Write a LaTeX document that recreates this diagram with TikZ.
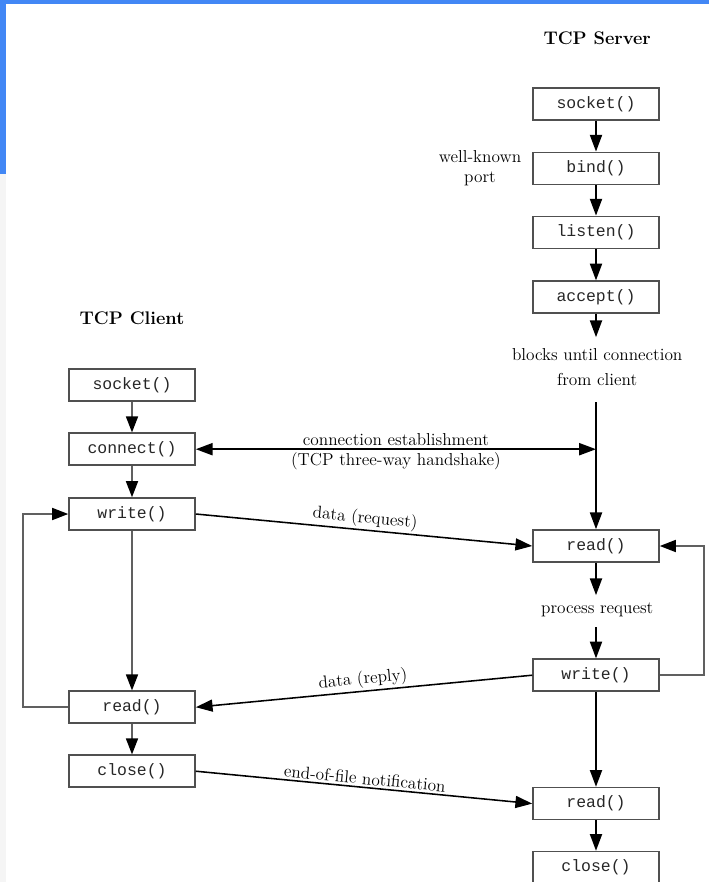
\documentclass[tikz,border=0pt]{standalone}
\usepackage{fontspec}
\setmonofont{Liberation Mono}
\usetikzlibrary{positioning}
\usetikzlibrary{calc}
\usetikzlibrary{arrows.meta}

\definecolor{frameblue}{RGB}{66,135,245}
\definecolor{boxgray}{RGB}{80,80,80}

\tikzset{
  callbox/.style={draw=boxgray, line width=1.1pt, minimum width=3.15cm, minimum height=0.8cm, inner sep=0pt, font=\fontsize{11.7}{14}\ttfamily, text=black!85},
  lbl/.style={font=\fontsize{12.3}{17.8}\selectfont, align=center, inner sep=1.5pt},
  ttl/.style={font=\fontsize{13}{16}\selectfont\bfseries},
  srvarrow/.style={-{Triangle[length=0.42cm,width=0.3cm]}, line width=1.4pt},
  cliarrow/.style={-{Triangle[length=0.4cm,width=0.3cm,color=black]}, draw=gray!75!black, line width=1.1pt},
  handshake/.style={{Triangle[length=0.42cm,width=0.3cm]}-{Triangle[length=0.42cm,width=0.3cm]}, line width=1.4pt},
  msg/.style={-{Triangle[length=0.42cm,width=0.3cm]}, line width=1.1pt}
}

\begin{document}
\begin{tikzpicture}
\useasboundingbox (0,0) rectangle (17.725,-22.05);
% screenshot frame
\fill[frameblue] (0,0) rectangle (17.725,-0.1);
\fill[frameblue] (0,0) rectangle (0.15,-4.35);
\fill[black!4] (0,-4.35) rectangle (0.15,-22.05);

% server
\node[ttl](stitle) at (14.93,-0.95){TCP Server};
\node[callbox](ssocket) at (14.9,-2.6){socket()};
\node[callbox](sbind) at (14.9,-4.21){bind()};
\node[callbox](slisten) at (14.9,-5.81){listen()};
\node[callbox](saccept) at (14.9,-7.43){accept()};
\node[lbl,font=\fontsize{12.3}{14.5}\selectfont](wkport) at (12.0,-4.2){well-known\\port};
\coordinate(sblkin) at (14.9,-8.43);
\node[lbl](sblocks) at (14.93,-9.18){blocks until connection\\from client};
\coordinate(sblkout) at (14.9,-10.05);
\coordinate(shand) at (14.9,-11.23);
\node[callbox](sread) at (14.9,-13.65){read()};
\coordinate(sprocin) at (14.9,-14.88);
\node[lbl](sproc) at (14.93,-15.25){process request};
\coordinate(sprocout) at (14.9,-15.68);
\node[callbox](swrite) at (14.9,-16.88){write()};
\node[callbox](sread2) at (14.9,-20.09){read()};
\node[callbox](sclose) at (14.9,-21.69){close()};
\coordinate(sloopa) at (17.6,-16.88);
\coordinate(sloopb) at (17.6,-13.65);

% client
\node[ttl](ctitle) at (3.3,-7.95){TCP Client};
\node[callbox](csocket) at (3.3,-9.63){socket()};
\node[callbox](cconnect) at (3.3,-11.23){connect()};
\node[callbox](cwrite) at (3.3,-12.85){write()};
\node[callbox](cread) at (3.3,-17.68){read()};
\node[callbox](cclose) at (3.3,-19.28){close()};
\coordinate(cloopa) at (0.575,-17.68);
\coordinate(cloopb) at (0.575,-12.85);

\path
(ssocket) edge[srvarrow] (sbind)
(sbind) edge[srvarrow] (slisten)
(slisten) edge[srvarrow] (saccept)
(saccept) edge[srvarrow] (sblkin)
(sblkout) edge[srvarrow] (sread)
(sread) edge[srvarrow] (sprocin)
(sprocout) edge[srvarrow] (swrite)
(swrite) edge[srvarrow] (sread2)
(sread2) edge[srvarrow] (sclose)
(csocket) edge[cliarrow] (cconnect)
(cconnect) edge[cliarrow] (cwrite)
(cwrite) edge[cliarrow] (cread)
(cread) edge[cliarrow] (cclose);

\draw[cliarrow] (swrite.east) -- (sloopa) -- (sloopb) -- (sread.east);
\draw[cliarrow] (cread.west) -- (cloopa) -- (cloopb) -- (cwrite.west);

\draw[handshake] (cconnect.east) -- node[lbl,above]{connection establishment} node[lbl,below]{(TCP three-way handshake)} (shand);

\draw[msg] (cwrite.east) -- node[lbl,above,sloped]{data (request)} (sread.west);
\draw[msg] (swrite.west) -- node[lbl,above,sloped]{data (reply)} (cread.east);
\draw[msg] (cclose.east) -- node[lbl,above,sloped]{end-of-file notification} (sread2.west);
\end{tikzpicture}
\end{document}
